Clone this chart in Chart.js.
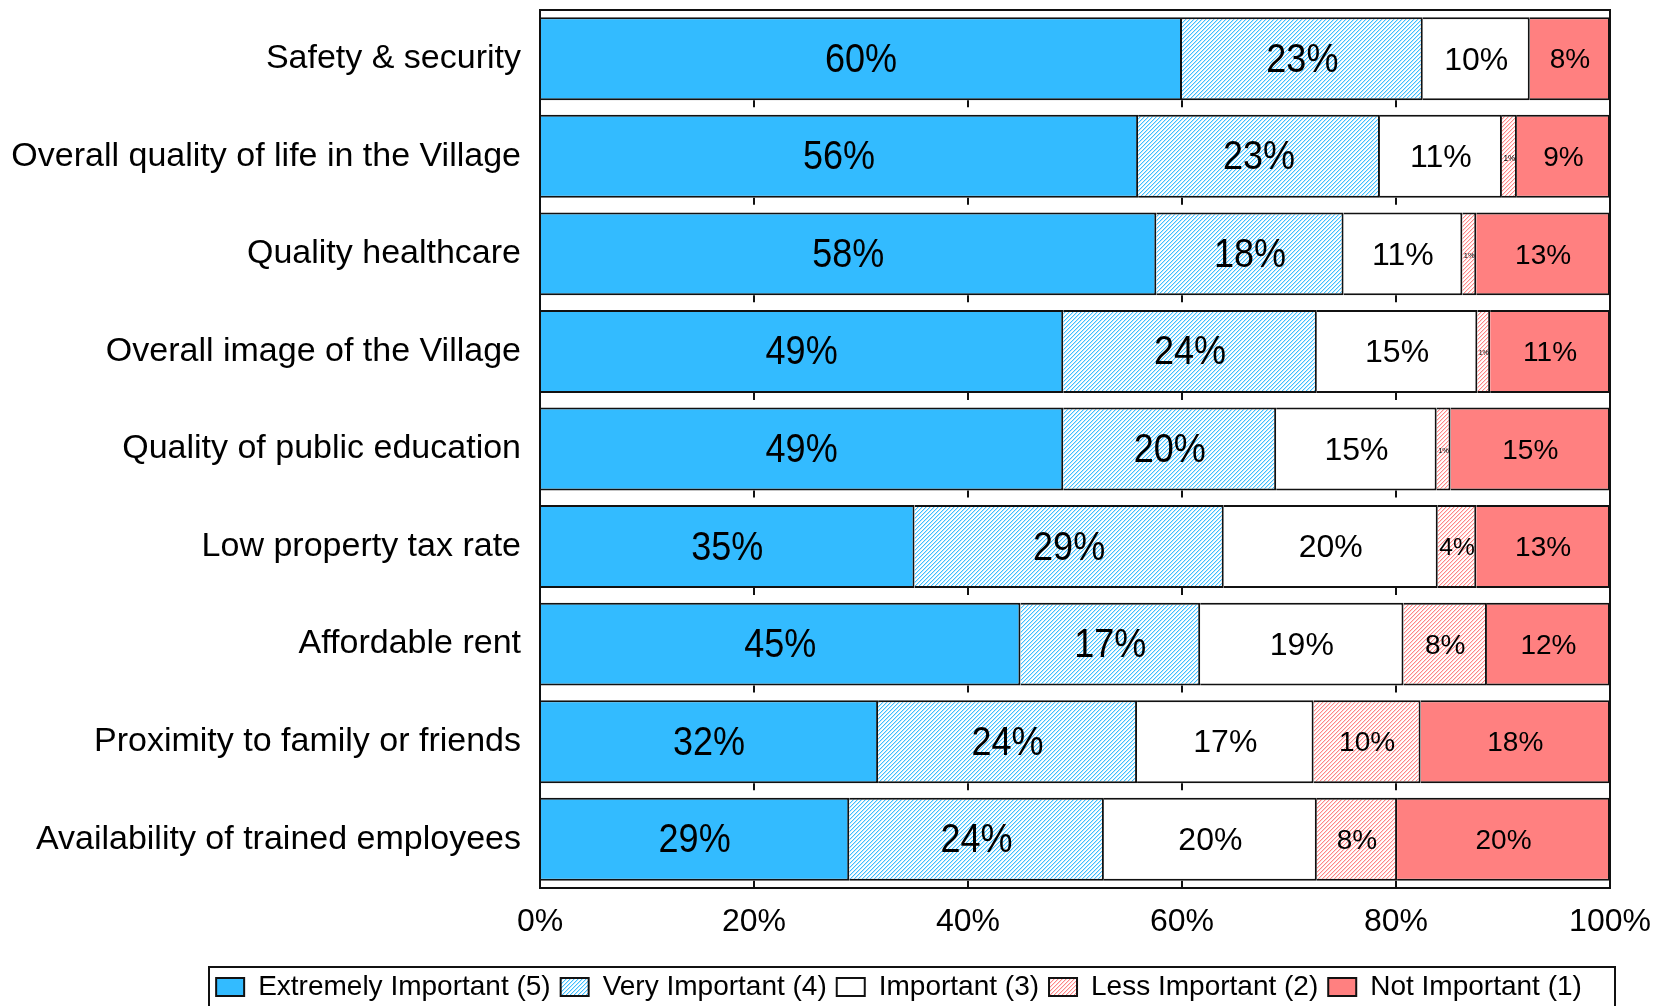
<!DOCTYPE html>
<html><head><meta charset="utf-8">
<script src="https://cdn.jsdelivr.net/npm/chart.js@4"></script>
<style>html,body{margin:0;padding:0;background:#fff;overflow:hidden;} canvas{display:block;}</style>
</head><body>
<canvas id="c" width="1654" height="1006"></canvas>
<script>
const categories = ['Safety & security','Overall quality of life in the Village','Quality healthcare','Overall image of the Village','Quality of public education','Low property tax rate','Affordable rent','Proximity to family or friends','Availability of trained employees'];
const seriesNames = ['Extremely Important (5)','Very Important (4)','Important (3)','Less Important (2)','Not Important (1)'];
const extremelyImportant = [60.0, 55.9, 57.6, 48.9, 48.9, 35.0, 44.9, 31.6, 28.9];
const veryImportant      = [22.5, 22.6, 17.5, 23.7, 19.9, 28.9, 16.8, 24.2, 23.8];
const important          = [10.0, 11.4, 11.1, 15.0, 15.0, 20.0, 19.0, 16.5, 19.9];
const lessImportant      = [ 0.0,  1.4,  1.3,  1.2,  1.3,  3.6,  7.8, 10.0,  7.5];
const notImportant       = [ 7.5,  8.7, 12.5, 11.2, 14.9, 12.5, 11.5, 17.7, 19.9];
const xTickValues = [0, 20, 40, 60, 80, 100];
const xTickLabels = ['0%', '20%', '40%', '60%', '80%', '100%'];

const FONT = "'Liberation Sans', Arial, sans-serif";
Chart.defaults.font.family = FONT;
Chart.defaults.color = '#000';

const canvas = document.getElementById('c');
const mainCtx = canvas.getContext('2d');

function hatch(rgb) {
  const t = document.createElement('canvas');
  t.width = 4; t.height = 4;
  const g = t.getContext('2d');
  const img = g.createImageData(4, 4);
  for (let y = 0; y < 4; y++) for (let x = 0; x < 4; x++) {
    const d = (x + y) % 4;
    const a = d === 0 ? 0.95 : (d === 1 ? 0.3 : 0);
    const i = (y * 4 + x) * 4;
    img.data[i]   = Math.round(255 + (rgb[0] - 255) * a);
    img.data[i+1] = Math.round(255 + (rgb[1] - 255) * a);
    img.data[i+2] = Math.round(255 + (rgb[2] - 255) * a);
    img.data[i+3] = 255;
  }
  g.putImageData(img, 0, 0);
  return mainCtx.createPattern(t, 'repeat');
}

const BLUE = '#33BBFF', SALMON = '#FF8080';
const fills = [BLUE, hatch([51,187,255]), '#FFFFFF', hatch([255,128,128]), SALMON];
const seriesValues = [extremelyImportant, veryImportant, important, lessImportant, notImportant];
const labelFont = [{size: 40, sx: 0.9}, {size: 40, sx: 0.9}, {size: 32, sx: 1}, {size: 28, sx: 1}, {size: 28, sx: 1}];

const decor = {
  id: 'decor',
  afterLayout(chart) {
    const lg = chart.legend;
    if (lg) { lg.left = 183; lg.right = 1615; }
  },
  afterDatasetsDraw(chart) {
    const {ctx, chartArea: a, scales: {x}} = chart;
    ctx.save();
    ctx.strokeStyle = '#111';
    ctx.lineWidth = 2;
    chart.getDatasetMeta(0).data.forEach(bar => {
      const yb = bar.y + bar.height / 2;
      xTickValues.slice(1, -1).forEach(v => {
        const px = Math.round(x.getPixelForValue(v));
        ctx.beginPath(); ctx.moveTo(px, yb); ctx.lineTo(px, yb + 7); ctx.stroke();
      });
    });
    ctx.strokeRect(a.left, a.top, a.right - a.left, a.bottom - a.top);
    ctx.fillStyle = '#000';
    ctx.textAlign = 'center';
    ctx.textBaseline = 'middle';
    chart.data.datasets.forEach((ds, di) => {
      const meta = chart.getDatasetMeta(di);
      meta.data.forEach((bar, i) => {
        const v = ds.data[i];
        if (!v) return;
        const txt = Math.round(v) + '%';
        const w = Math.abs(bar.x - bar.base);
        const lf = labelFont[di];
        let size = lf.size;
        ctx.font = size + 'px ' + FONT;
        const tw = ctx.measureText(txt).width * lf.sx;
        if (tw > w - 4) { size = Math.max(7, size * (w - 3) / tw); }
        ctx.font = size + 'px ' + FONT;
        ctx.save();
        ctx.translate((bar.x + bar.base) / 2, bar.y + 2);
        ctx.scale(lf.sx, 1);
        ctx.fillText(txt, 0, 0);
        ctx.restore();
      });
    });
    ctx.restore();
  },
  afterDraw(chart) {
    const ctx = chart.ctx;
    ctx.save();
    ctx.strokeStyle = '#111';
    ctx.lineWidth = 2;
    ctx.strokeRect(209, 967, 1406, 60);
    ctx.restore();
  }
};

new Chart(canvas, {
  type: 'bar',
  data: {
    labels: categories,
    datasets: seriesNames.map((name, k) => ({
      label: name,
      data: seriesValues[k],
      backgroundColor: fills[k],
      borderColor: '#111',
      borderWidth: 2,
      barPercentage: 0.85,
      categoryPercentage: 1.0
    }))
  },
  options: {
    indexAxis: 'y',
    responsive: false,
    animation: false,
    devicePixelRatio: 1,
    layout: { padding: { left: 0, right: 44, top: 10, bottom: -5 } },
    scales: {
      x: {
        stacked: true, min: 0, max: 100,
        grid: { display: false, drawTicks: false },
        border: { display: false },
        ticks: {
          stepSize: 20, padding: 15, maxRotation: 0, autoSkip: false,
          font: { size: 32 }, color: '#000',
          callback: v => xTickLabels[xTickValues.indexOf(v)]
        },
        afterFit: s => { s.height = 75; s.paddingLeft = 0; s.paddingRight = 0; }
      },
      y: {
        stacked: true,
        grid: { display: false, drawTicks: false },
        border: { display: false },
        ticks: { padding: 19, autoSkip: false, font: { size: 34 }, color: '#000' },
        afterFit: s => { s.width = 540; s.paddingTop = 0; s.paddingBottom = 0; }
      }
    },
    plugins: {
      tooltip: { enabled: false },
      legend: {
        position: 'bottom',
        labels: { font: { size: 28 }, color: '#000', boxWidth: 28, boxHeight: 18, padding: 10 }
      }
    }
  },
  plugins: [decor]
});
</script>
</body></html>
